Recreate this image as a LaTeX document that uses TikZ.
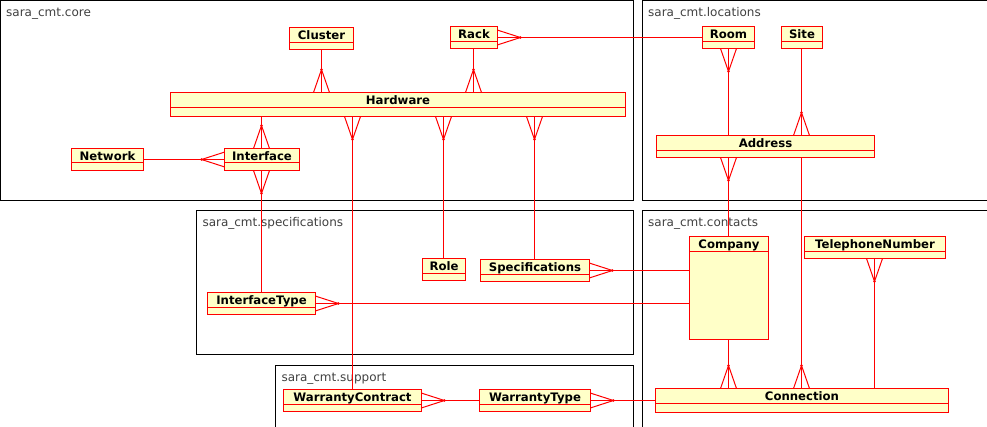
\documentclass[tikz,border=0pt]{standalone}
\usepackage{fontspec}
\setmainfont{DejaVu Sans}
\usetikzlibrary{calc}
\definecolor{clsfill}{RGB}{255,255,200}
\definecolor{pkgtext}{RGB}{64,64,64}
\tikzset{
  pkg/.style={draw=black, line width=1bp},
  pkglabel/.style={anchor=base west, inner sep=0pt, text=pkgtext, font=\fontsize{12bp}{14bp}\selectfont},
  cls/.style={draw=red, fill=clsfill, line width=1bp, inner sep=0pt, outer sep=0pt},
  clsname/.style={anchor=base, inner sep=0pt, font=\fontsize{11.7bp}{14bp}\selectfont\bfseries},
  conn/.style={draw=red, line width=1bp},
  crow spread/.store in=\crowspread, crow spread=8,
  crow/.pic={\draw[conn] (0,-23) -- (-\crowspread,0) (0,-23) -- (\crowspread,0);
             \fill[red] (0,-23) circle[radius=1.3bp];}
}
\newcommand\umlclass[7]{%
  \pgfmathsetmacro\ucx{(#2+#4)/2}%
  \pgfmathsetmacro\ucy{(#3+#5)/2}%
  \pgfmathsetmacro\ucw{#4-#2}%
  \pgfmathsetmacro\uch{#5-#3}%
  \node[cls, minimum width=\ucw bp, minimum height=\uch bp] (#1) at (\ucx,\ucy) {};
  \draw[red, line width=1bp] (#2,#6) -- (#4,#6);
  \node[clsname] (#1-name) at (\ucx,#3+11.6) {#7};
}
\begin{document}
\begin{tikzpicture}[x=1bp, y=-1bp]
\path[use as bounding box] (0,0) rectangle (987,426);
\clip (0,0) rectangle (987,426);
% packages
\draw[pkg] (0.5,0.5) rectangle (633.5,200.5);
\node[pkglabel] (core-label) at (6,16) {sara\_cmt.core};
\draw[pkg] (642.5,0.5) rectangle (1000,200.5);
\node[pkglabel] (loc-label) at (648,16) {sara\_cmt.locations};
\draw[pkg] (196.5,210.5) rectangle (633.5,354.5);
\node[pkglabel] (spec-label) at (202.3,226) {sara\_cmt.specifications};
\draw[pkg] (275.5,365.5) rectangle (633.5,440);
\node[pkglabel] (sup-label) at (281.3,381) {sara\_cmt.support};
\draw[pkg] (642.5,210.5) rectangle (1000,440);
\node[pkglabel] (con-label) at (648,226) {sara\_cmt.contacts};
% classes
\umlclass{Cluster}{289.5}{27.5}{353.5}{49.5}{42.5}{Cluster}
\umlclass{Rack}{450.5}{26.5}{497.5}{48.5}{41.5}{Rack}
\umlclass{Hardware}{170.5}{92.5}{625.5}{116.5}{107.5}{Hardware}
\umlclass{Network}{71.5}{148.5}{143.5}{170.5}{162.5}{Network}
\umlclass{Interface}{224.5}{148.5}{299.5}{170.5}{162.5}{Interface}
\umlclass{Room}{702.5}{26.5}{754.5}{48.5}{41.5}{Room}
\umlclass{Site}{781.5}{26.5}{822.5}{48.5}{41.5}{Site}
\umlclass{Address}{656.5}{135.5}{874.5}{157.5}{150.5}{Address}
\umlclass{Role}{422.5}{258.5}{465.5}{280.5}{273.5}{Role}
\umlclass{Specifications}{480.5}{259.5}{589.5}{281.5}{274.5}{Specifications}
\umlclass{InterfaceType}{207.5}{292.5}{315.5}{314.5}{307.5}{InterfaceType}
\umlclass{WarrantyContract}{283.5}{389.5}{421.5}{411.5}{404.5}{WarrantyContract}
\umlclass{WarrantyType}{479.5}{389.5}{590.5}{411.5}{404.5}{WarrantyType}
\umlclass{Company}{689.5}{236.5}{768.5}{339.5}{251.5}{Company}
\umlclass{TelephoneNumber}{804.5}{236.5}{945.5}{258.5}{251.5}{TelephoneNumber}
\umlclass{Connection}{655.5}{388.5}{948.5}{412.5}{403.5}{Connection}
% connectors
\coordinate (hwclu) at (Cluster.south |- Hardware.north);
\draw[conn] (Cluster.south) -- (hwclu);
\pic at (hwclu) {crow};
\coordinate (hwrack) at (473.5,0 |- Hardware.north);
\draw[conn] (Rack.south -| hwrack) -- (hwrack);
\pic at (hwrack) {crow};
\draw[conn] (Rack.east) -- (Rack.east -| Room.west);
\pic[rotate=-90, crow spread=7.4] at (Rack.east) {crow};
\coordinate (ifhw) at (261.5,0 |- Interface.north);
\draw[conn] (ifhw |- Hardware.south) -- (ifhw);
\pic at (ifhw) {crow};
\draw[conn] (Network.east) -- (Interface.west);
\pic[rotate=90, crow spread=7.4] at (Interface.west) {crow};
\draw[conn] (Interface.south -| InterfaceType.north) -- (InterfaceType.north);
\pic[rotate=180] at (Interface.south -| InterfaceType.north) {crow};
\coordinate (hwwc) at (WarrantyContract.north |- Hardware.south);
\draw[conn] (hwwc) -- (WarrantyContract.north);
\pic[rotate=180] at (hwwc) {crow};
\coordinate (hwrole) at (443.5,0 |- Hardware.south);
\draw[conn] (hwrole) -- (hwrole |- Role.north);
\pic[rotate=180] at (hwrole) {crow};
\coordinate (hwspec) at (534.5,0 |- Hardware.south);
\draw[conn] (hwspec) -- (hwspec |- Specifications.north);
\pic[rotate=180] at (hwspec) {crow};
\coordinate (roomaddr) at (728.5,0 |- Room.south);
\draw[conn] (roomaddr) -- (roomaddr |- Address.north);
\pic[rotate=180] at (roomaddr) {crow};
\coordinate (siteaddr) at (801.5,0 |- Address.north);
\draw[conn] (siteaddr |- Site.south) -- (siteaddr);
\pic at (siteaddr) {crow};
\coordinate (addrcomp) at (728.5,0 |- Address.south);
\draw[conn] (addrcomp) -- (addrcomp |- Company.north);
\pic[rotate=180] at (addrcomp) {crow};
\coordinate (addrconn) at (801.5,0 |- Connection.north);
\draw[conn] (addrconn |- Address.south) -- (addrconn);
\pic at (addrconn) {crow};
\coordinate (compconn) at (728.5,0 |- Connection.north);
\draw[conn] (compconn |- Company.south) -- (compconn);
\pic at (compconn) {crow};
\coordinate (telconn) at (874.5,0 |- TelephoneNumber.south);
\draw[conn] (telconn) -- (telconn |- Connection.north);
\pic[rotate=180] at (telconn) {crow};
\draw[conn] (Specifications.east) -- (Specifications.east -| Company.west);
\pic[rotate=-90, crow spread=7.4] at (Specifications.east) {crow};
\draw[conn] (InterfaceType.east) -- (InterfaceType.east -| Company.west);
\pic[rotate=-90, crow spread=7.4] at (InterfaceType.east) {crow};
\draw[conn] (WarrantyContract.east) -- (WarrantyType.west);
\pic[rotate=-90, crow spread=7.4] at (WarrantyContract.east) {crow};
\draw[conn] (WarrantyType.east) -- (WarrantyType.east -| Connection.west);
\pic[rotate=-90, crow spread=7.4] at (WarrantyType.east) {crow};
\end{tikzpicture}
\end{document}
